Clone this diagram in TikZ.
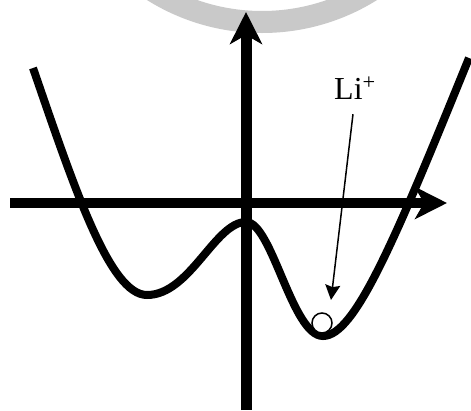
\documentclass[tikz,border=0pt]{standalone}
\usepackage{fontspec}
\setmainfont{Liberation Serif}
\usetikzlibrary{arrows.meta}
\tikzset{
  axis/.style={line width=10pt, -{Stealth[length=32pt,width=32pt,inset=9pt]}},
  well/.style={line width=8pt},
  pointer/.style={line width=1.5pt, -{Stealth[length=15pt,width=15pt,inset=2pt]}},
  ion/.style={circle, draw, fill=white, line width=1.5pt, minimum size=20pt, inner sep=0pt},
  mark band/.style={line width=22pt, black!21},
  label text/.style={font=\fontsize{32}{36}\selectfont, inner sep=0pt}
}
\begin{document}
\begin{tikzpicture}[x=1pt,y=-1pt]
\useasboundingbox (0,0) rectangle (471,410);
\fill[white] (0,0) rectangle (471,410);
% watermark band
\draw[mark band] (262,-184) circle[radius=206pt];
% axes
\coordinate (xs) at (10,203);
\coordinate (xe) at (447,203);
\coordinate (ys) at (246,410);
\coordinate (ye) at (246,12);
\draw[axis] (xs) -- (xe);
\draw[axis, line width=11pt] (ys) -- (ye);
% potential curve
\draw[well] (33,68) .. controls (75,190) and (110,295) .. (147,295)
  .. controls (190,295) and (215,222) .. (246,222)
  .. controls (272,222) and (292,336) .. (323,336)
  .. controls (355,336) and (395,240) .. (469,58);
% ion
\node[ion] (li ion) at (322,323) {};
% label
\node[label text, anchor=base west] (li) at (334,99) {Li\textsuperscript{+}};
\coordinate (litip) at (331,300);
\draw[pointer] ([xshift=-2pt,yshift=-15pt]li.south) -- (litip);
\end{tikzpicture}
\end{document}
